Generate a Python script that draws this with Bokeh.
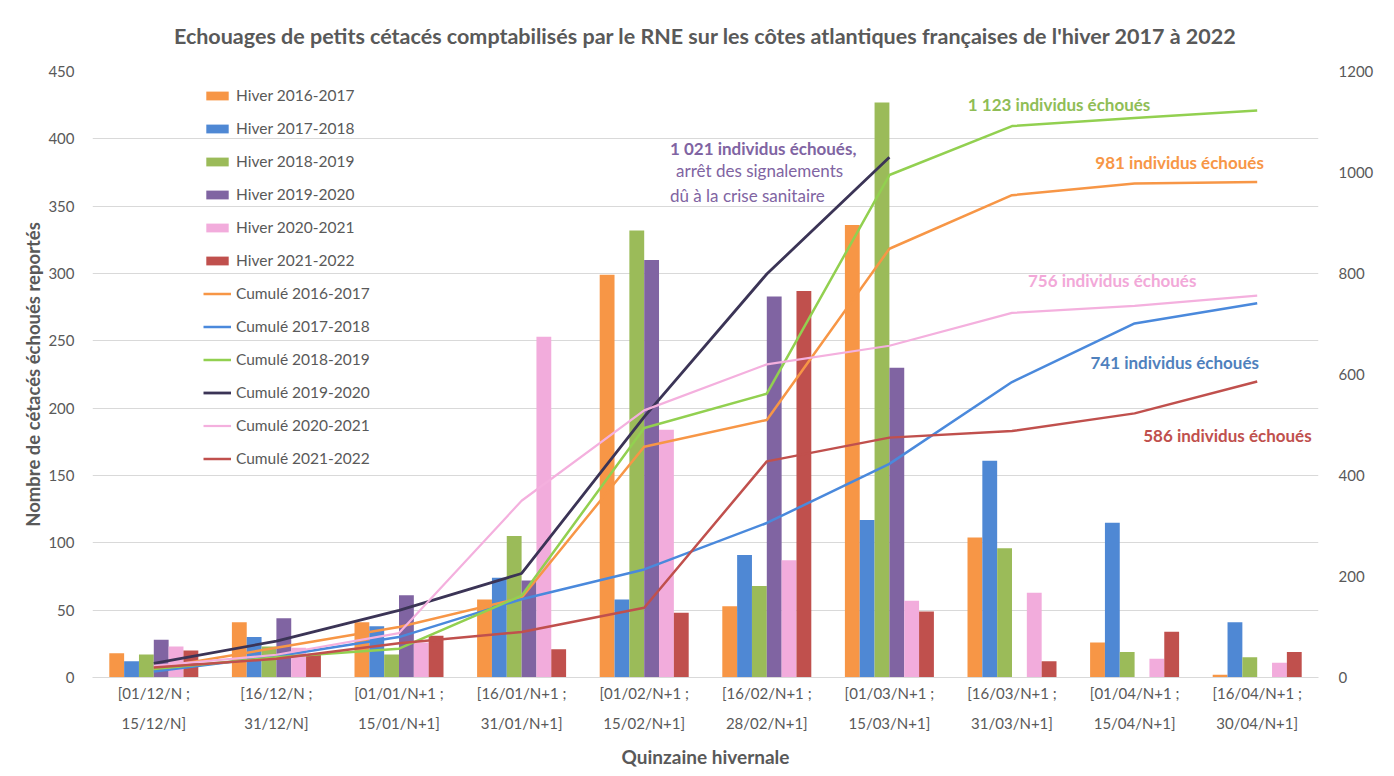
from bokeh.plotting import figure
from bokeh.models import (Range1d, LinearAxis, SingleIntervalTicker, Legend, LegendItem,
                          Label, ColumnDataSource, FactorRange)
from bokeh.transform import dodge
from bokeh.embed import file_html
from bokeh.resources import INLINE

# ---------------- data ----------------
title_text = ("Echouages de petits cétacés comptabilisés par le RNE sur les côtes "
              "atlantiques françaises de l'hiver 2017 à 2022")
categories = [
    "[01/12/N ;\n15/12/N]", "[16/12/N ;\n31/12/N]", "[01/01/N+1 ;\n15/01/N+1]",
    "[16/01/N+1 ;\n31/01/N+1]", "[01/02/N+1 ;\n15/02/N+1]", "[16/02/N+1 ;\n28/02/N+1]",
    "[01/03/N+1 ;\n15/03/N+1]", "[16/03/N+1 ;\n31/03/N+1]", "[01/04/N+1 ;\n15/04/N+1]",
    "[16/04/N+1 ;\n30/04/N+1]",
]
hiver_2016_2017 = [18, 41, 41, 58, 299, 53, 336, 104, 26, 2]
hiver_2017_2018 = [12, 30, 38, 74, 58, 91, 117, 161, 115, 41]
hiver_2018_2019 = [17, 23, 17, 105, 332, 68, 427, 96, 19, 15]
hiver_2019_2020 = [28, 44, 61, 72, 310, 283, 230, None, None, None]
hiver_2020_2021 = [23, 22, 26, 253, 184, 87, 57, 63, 14, 11]
hiver_2021_2022 = [20, 17, 31, 21, 48, 287, 49, 12, 34, 19]

cumul_2016_2017 = [18, 59, 100, 158, 457, 510, 849, 955, 978, 981]
cumul_2017_2018 = [12, 42, 80, 155, 214, 306, 423, 585, 701, 741]
cumul_2018_2019 = [17, 40, 57, 162, 494, 562, 995, 1092, 1108, 1123]
cumul_2019_2020 = [28, 72, 133, 206, 516, 799, 1030, None, None, None]
cumul_2020_2021 = [23, 45, 88, 350, 529, 620, 657, 722, 736, 756]
cumul_2021_2022 = [20, 37, 68, 90, 138, 428, 475, 488, 523, 586]

bar_names = ["Hiver 2016-2017", "Hiver 2017-2018", "Hiver 2018-2019",
             "Hiver 2019-2020", "Hiver 2020-2021", "Hiver 2021-2022"]
line_names = ["Cumulé 2016-2017", "Cumulé 2017-2018", "Cumulé 2018-2019",
              "Cumulé 2019-2020", "Cumulé 2020-2021", "Cumulé 2021-2022"]
bar_series = [hiver_2016_2017, hiver_2017_2018, hiver_2018_2019,
              hiver_2019_2020, hiver_2020_2021, hiver_2021_2022]
line_series = [cumul_2016_2017, cumul_2017_2018, cumul_2018_2019,
               cumul_2019_2020, cumul_2020_2021, cumul_2021_2022]

bar_colors = ["#f79646", "#4f88d4", "#9bbb59", "#8064a2", "#f2acdc", "#c0504d"]
line_colors = ["#f79646", "#4a89dc", "#92d050", "#3b3456", "#f4b0de", "#c0504d"]
line_widths = [2.5, 2.5, 2.5, 2.8, 2.2, 2.5]

annotations = [
    ("1 123 individus échoués", 7.14, 1135, "#8fbd56", "bold"),
    ("981 individus échoués", 8.18, 1020, "#f79646", "bold"),
    ("756 individus échoués", 7.63, 786, "#f2a8d8", "bold"),
    ("741 individus échoués", 8.14, 624, "#4f81bd", "bold"),
    ("586 individus échoués", 8.57, 479, "#c0504d", "bold"),
    ("1 021 individus échoués,", 4.71, 1048, "#8064a2", "bold"),
    ("arrêt des signalements", 4.76, 1004, "#8064a2", "normal"),
    ("dû à la crise sanitaire", 4.71, 955, "#8064a2", "normal"),
]

FONT = "Lato"
GREY = "#595959"

p = figure(x_range=FactorRange(*categories), y_range=Range1d(0, 450),
           frame_width=1226, frame_height=606,
           min_border_left=92, min_border_top=71, min_border_right=68, min_border_bottom=40,
           output_backend="svg", toolbar_location=None, title=title_text)
p.extra_y_ranges = {"right": Range1d(0, 1200)}

p.title.align = "center"
p.title.vertical_align = "top"
p.title.text_font = FONT
p.title.text_font_size = "21.5px"
p.title.text_font_style = "bold"
p.title.text_color = GREY
p.title.standoff = 42
p.title.offset = -10

p.outline_line_color = None
p.background_fill_color = "white"
p.border_fill_color = "white"
p.xgrid.grid_line_color = None
p.ygrid.grid_line_color = "#d9d9d9"
p.ygrid.ticker = SingleIntervalTicker(interval=50)

# left axis
ya = p.yaxis[0]
ya.ticker = SingleIntervalTicker(interval=50)
ya.axis_line_color = None
ya.major_tick_line_color = None
ya.minor_tick_line_color = None
ya.major_label_text_font = FONT
ya.major_label_text_font_size = "15px"
ya.major_label_text_color = GREY
ya.major_label_standoff = 12
ya.axis_label = "Nombre de cétacés échoués reportés"
ya.axis_label_text_font = FONT
ya.axis_label_text_font_size = "18.5px"
ya.axis_label_text_font_style = "bold"
ya.axis_label_text_color = GREY
ya.axis_label_standoff = 1

# right axis
ra = LinearAxis(y_range_name="right", ticker=SingleIntervalTicker(interval=200))
ra.axis_line_color = None
ra.major_tick_line_color = None
ra.minor_tick_line_color = None
ra.major_label_text_font = FONT
ra.major_label_text_font_size = "15px"
ra.major_label_text_color = GREY
ra.major_label_standoff = 14
p.add_layout(ra, "right")

# x axis
xa = p.xaxis[0]
xa.axis_line_color = "#d9d9d9"
xa.major_tick_line_color = None
xa.minor_tick_line_color = None
xa.major_label_text_font = FONT
xa.major_label_text_font_size = "15px"
xa.major_label_text_color = GREY
xa.major_label_text_line_height = 1.7
xa.major_label_standoff = 0
xa.axis_label = "Quinzaine hivernale"
xa.axis_label_text_font = FONT
xa.axis_label_text_font_size = "19px"
xa.axis_label_text_font_style = "bold"
xa.axis_label_text_color = GREY
xa.axis_label_standoff = 10

# bars
bw = 0.121
bar_renderers = []
for i, (vals, col) in enumerate(zip(bar_series, bar_colors)):
    xs = [c for c, v in zip(categories, vals) if v is not None]
    ys = [v for v in vals if v is not None]
    src = ColumnDataSource(dict(x=xs, top=ys))
    r = p.vbar(x=dodge("x", (i - 2.5) * bw, range=p.x_range), top="top", width=bw,
               source=src, fill_color=col, line_color=None)
    bar_renderers.append(r)

# cumulative lines
line_renderers = []
for vals, col, lw in zip(line_series, line_colors, line_widths):
    xs = [c for c, v in zip(categories, vals) if v is not None]
    ys = [v for v in vals if v is not None]
    src = ColumnDataSource(dict(x=xs, y=ys))
    r = p.line(x="x", y="y", source=src, y_range_name="right",
               line_color=col, line_width=lw)
    line_renderers.append(r)

# annotations
for txt, x, y, col, style in annotations:
    p.add_layout(Label(x=x, y=y, y_range_name="right", text=txt, text_color=col,
                       text_font=FONT, text_font_size="17px", text_font_style=style,
                       text_baseline="middle", text_align="left"))

# legend
items = [LegendItem(label=n, renderers=[r]) for n, r in zip(bar_names, bar_renderers)]
items += [LegendItem(label=n, renderers=[r]) for n, r in zip(line_names, line_renderers)]
legend = Legend(items=items, location=(111, 209), orientation="vertical",
                label_text_font=FONT, label_text_font_size="15.5px", label_text_color=GREY,
                glyph_width=28, glyph_height=11, label_height=20, label_standoff=5,
                spacing=13, padding=0, margin=0,
                border_line_color=None, background_fill_alpha=0)
p.add_layout(legend)

open("out.html", "w").write(file_html(p, INLINE))
